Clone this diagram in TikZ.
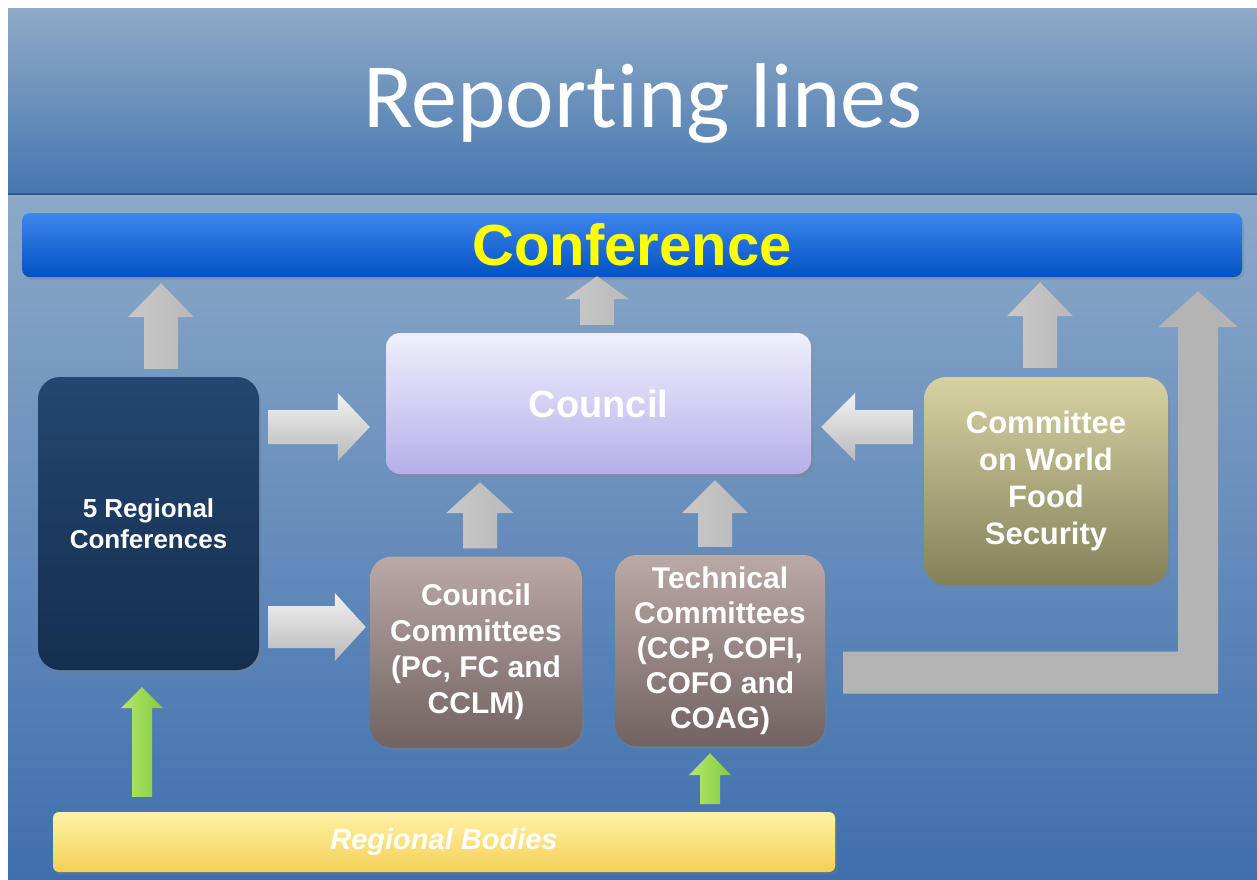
\documentclass[tikz,border=0pt]{standalone}
\usepackage{fontspec}
\setmainfont{Liberation Sans}
\newfontfamily\titlefont[Ligatures=NoCommon]{Carlito}
\usetikzlibrary{calc,shadows}
\definecolor{bandtop}{HTML}{8FAAC6}
\definecolor{bandbot}{HTML}{4677B0}
\definecolor{bandline}{HTML}{2E5886}
\definecolor{bodytop}{HTML}{8CA9C8}
\definecolor{bodybot}{HTML}{3F6FAE}
\definecolor{conftop}{HTML}{3F86EE}
\definecolor{confmid}{HTML}{0A60D2}
\definecolor{confbot}{HTML}{0053C2}
\definecolor{conftext}{HTML}{FFFF00}
\definecolor{rctop}{HTML}{244670}
\definecolor{rcbot}{HTML}{152F50}
\definecolor{coutop}{HTML}{F0F0FB}
\definecolor{coubot}{HTML}{B6AFEA}
\definecolor{cctop}{HTML}{BAA9A5}
\definecolor{ccbot}{HTML}{726260}
\definecolor{cwtop}{HTML}{D6D2A2}
\definecolor{cwbot}{HTML}{84805A}
\definecolor{rbtop}{HTML}{FFF2A6}
\definecolor{rbbot}{HTML}{F4D058}
\definecolor{grA}{HTML}{C9C9C9}
\definecolor{grB}{HTML}{F2F2F2}
\definecolor{grC}{HTML}{B9B9B9}
\definecolor{gnA}{HTML}{B4E86C}
\definecolor{gnB}{HTML}{DDF8AE}
\definecolor{gnC}{HTML}{86C93E}
\definecolor{flatgrey}{HTML}{B4B4B4}
\newcommand\UpArr[6]{%
  \path[#6] let \p1=(#1), \p2=(#2) in
    (\x1-#3,\y1) -- (\x1-#3,\y2-#5) -- (\x1-#4,\y2-#5) -- (\x1,\y2)
    -- (\x1+#4,\y2-#5) -- (\x1+#3,\y2-#5) -- (\x1+#3,\y1) -- cycle;}
\newcommand\RtArr[6]{%
  \path[#6] let \p1=(#1), \p2=(#2) in
    (\x1,\y1+#3) -- (\x2-#5,\y1+#3) -- (\x2-#5,\y1+#4) -- (\x2,\y1)
    -- (\x2-#5,\y1-#4) -- (\x2-#5,\y1-#3) -- (\x1,\y1-#3) -- cycle;}
\newcommand\LtArr[6]{%
  \path[#6] let \p1=(#1), \p2=(#2) in
    (\x1,\y1+#3) -- (\x2+#5,\y1+#3) -- (\x2+#5,\y1+#4) -- (\x2,\y1)
    -- (\x2+#5,\y1-#4) -- (\x2+#5,\y1-#3) -- (\x1,\y1-#3) -- cycle;}
\tikzset{
  box/.style={rectangle, align=center, text=white, font=\bfseries,
    drop shadow={shadow xshift=2pt, shadow yshift=-3pt, opacity=0.35}},
  greyup/.style={shade, left color=grA, middle color=grB, right color=grC},
  greyrt/.style={shade, top color=grB, middle color=grA!60!grB, bottom color=grC},
  greenup/.style={shade, left color=gnA, middle color=gnB, right color=gnC},
}
\begin{document}
\begin{tikzpicture}[x=1pt,y=-1pt]
\useasboundingbox (0,0) rectangle (1257,879);
% background
\fill[white] (0,0) rectangle (1257,879);
\shade[top color=bandtop, bottom color=bandbot] (8,8) rectangle (1257,193);
\fill[bandline] (8,193) rectangle (1257,195.5);
\shade[top color=bodytop, bottom color=bodybot] (8,195.5) rectangle (1257,879);
% title
\node[text=white, font=\titlefont\fontsize{92}{100}\selectfont] (title) at (643,103) {Reporting lines};
% nodes
\node[box, rounded corners=8pt, minimum width=1220pt, minimum height=64pt,
  top color=conftop, middle color=confmid, bottom color=confbot, text=conftext,
  font=\bfseries\fontsize{58}{60}\selectfont] (conf) at (632,245) {Conference};
\node[box, rounded corners=22pt, minimum width=221pt, minimum height=293pt,
  top color=rctop, bottom color=rcbot,
  font=\bfseries\fontsize{26}{31}\selectfont] (rc) at (148.5,523.5) {5 Regional\\Conferences};
\node[box, rounded corners=14pt, minimum width=425pt, minimum height=141pt,
  top color=coutop, bottom color=coubot,
  font=\bfseries\fontsize{38}{42}\selectfont] (council) at (598.5,403.5) {Council};
\node[box, rounded corners=22pt, minimum width=212pt, minimum height=191pt,
  top color=cctop, bottom color=ccbot,
  font=\bfseries\fontsize{30}{36}\selectfont] (cc) at (476,652) {Council\\Committees\\(PC, FC and\\CCLM)};
\node[box, rounded corners=22pt, minimum width=210pt, minimum height=191pt,
  top color=cctop, bottom color=ccbot,
  font=\bfseries\fontsize{30}{35}\selectfont] (tc) at (720,650.5) {Technical\\Committees\\(CCP, COFI,\\COFO and\\COAG)};
\node[box, rounded corners=22pt, minimum width=244pt, minimum height=208pt,
  top color=cwtop, bottom color=cwbot,
  font=\bfseries\fontsize{31}{37}\selectfont] (cwfs) at (1046,481) {Committee\\on World\\Food\\Security};
\node[box, rounded corners=6pt, minimum width=782pt, minimum height=60pt,
  top color=rbtop, bottom color=rbbot,
  font=\bfseries\itshape\fontsize{29}{32}\selectfont] (rb) at (444,842) {Regional Bodies};
% grey up arrows
\UpArr{$(rc.north)+(12.5,-8)$}{$(conf.south)+(-471,6)$}{17pt}{33pt}{34pt}{greyup}
\UpArr{$(council.north)+(-1.5,-8)$}{$(conf.south)+(-35,-1)$}{17pt}{32pt}{23pt}{greyup}
\UpArr{$(cc.north)+(4,-8)$}{$(council.south)+(-118.5,8)$}{17pt}{34pt}{31pt}{greyup}
\UpArr{$(tc.north)+(-5,-8)$}{$(council.south)+(116.5,6)$}{17pt}{33pt}{33pt}{greyup}
\UpArr{$(cwfs.north)+(-6,-9)$}{$(conf.south)+(408,5)$}{17pt}{33pt}{34pt}{greyup}
% grey horizontal arrows
\RtArr{$(rc.east)+(9,-96.5)$}{$(council.west)+(-16,23.5)$}{17pt}{34pt}{32pt}{greyrt}
\RtArr{$(rc.east)+(9,103.5)$}{$(cc.west)+(-4,-25)$}{21pt}{34pt}{31pt}{greyrt}
\LtArr{$(cwfs.west)+(-11,-54)$}{$(council.east)+(10,23.5)$}{17pt}{34pt}{34pt}{greyrt}
% green arrows
\UpArr{$(rb.north)+(-302,-15)$}{$(rc.south)+(-6.5,17)$}{10pt}{21pt}{21pt}{greenup}
\UpArr{$(tc.south)+(-10,58)$}{$(tc.south)+(-10,7)$}{10pt}{21pt}{22pt}{greenup}
% big L arrow
\path[fill=flatgrey] let \p1=($(tc.east)+(18,22)$), \p2=($(conf.south)+(566,14)$) in
  (\x1,\y1+21pt) -- (\x2-20pt,\y1+21pt) -- (\x2-20pt,\y2-36pt) -- (\x2-40pt,\y2-36pt)
  -- (\x2,\y2) -- (\x2+40pt,\y2-36pt) -- (\x2+20pt,\y2-36pt) -- (\x2+20pt,\y1-21pt)
  -- (\x1,\y1-21pt) -- cycle;
\end{tikzpicture}
\end{document}
